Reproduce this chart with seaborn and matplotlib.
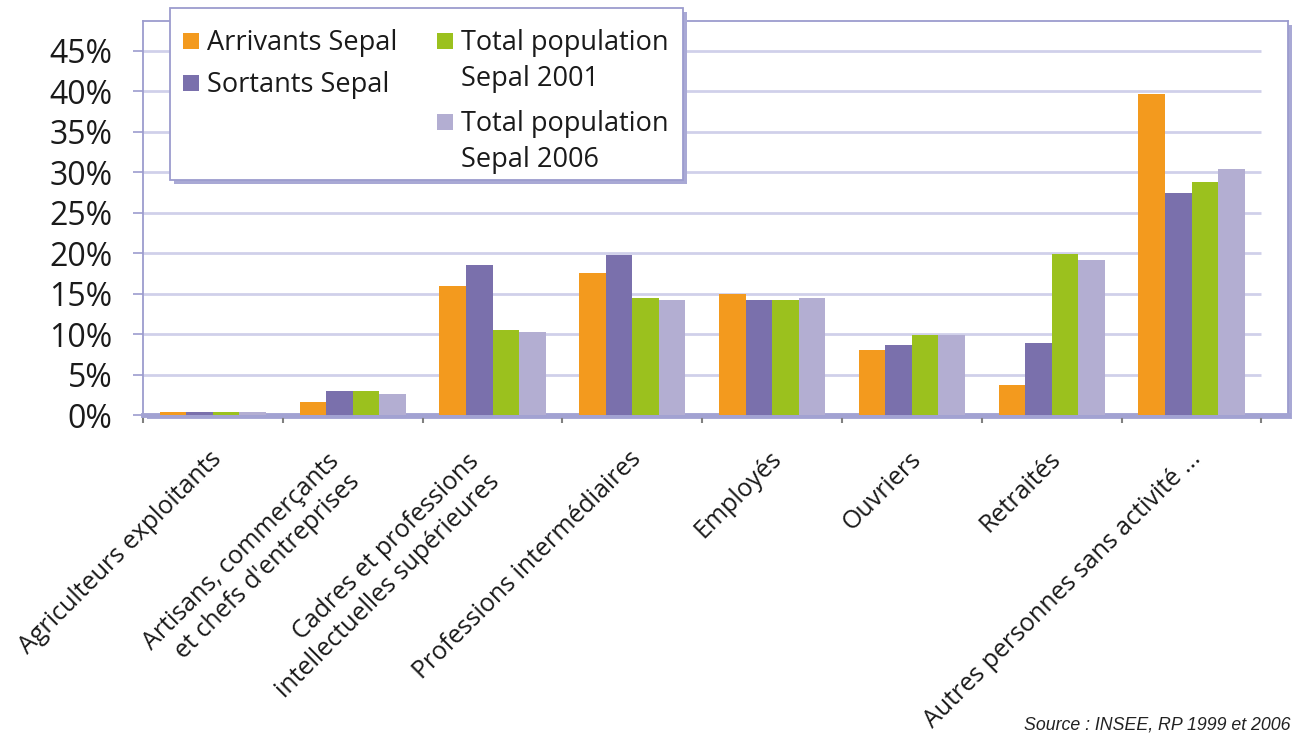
import matplotlib
matplotlib.use("Agg")
import matplotlib.pyplot as plt
from matplotlib.patches import Rectangle
from matplotlib.transforms import ScaledTranslation
import numpy as np
import pandas as pd
import seaborn as sns

# Socio-professional categories (x axis)
categories = [
    "Agriculteurs exploitants",
    "Artisans, commerçants\net chefs d'entreprises",
    "Cadres et professions\nintellectuelles supérieures",
    "Professions intermédiaires",
    "Employés",
    "Ouvriers",
    "Retraités",
    "Autres personnes sans activité ...",
]

# Series names
series = [
    "Arrivants Sepal",
    "Sortants Sepal",
    "Total population\nSepal 2001",
    "Total population\nSepal 2006",
]

# Shares in percent
arrivants = [0.4, 1.6, 15.9, 17.6, 14.9, 8.0, 3.7, 39.7]
sortants = [0.4, 3.0, 18.5, 19.8, 14.2, 8.6, 8.9, 27.4]
pop_2001 = [0.4, 3.0, 10.5, 14.5, 14.2, 9.9, 19.9, 28.8]
pop_2006 = [0.4, 2.6, 10.2, 14.2, 14.5, 9.9, 19.2, 30.4]

y_ticks = [0, 5, 10, 15, 20, 25, 30, 35, 40, 45]
y_labels = [f"{t}%" for t in y_ticks]

source_note = "Source : INSEE, RP 1999 et 2006"

colors = ["#F39A1E", "#7A70AC", "#9BC11E", "#B3AED2"]
frame_color = "#9C9CCE"
grid_color = "#D0D0EA"
shadow_color = "#A9A9D5"
text_color = "#1a1a1a"

df = pd.DataFrame({
    "category": np.repeat(categories, len(series)),
    "series": series * len(categories),
    "value": np.column_stack([arrivants, sortants, pop_2001, pop_2006]).ravel(),
})

sns.set_theme(style="white")
plt.rcParams["font.family"] = ["Open Sans", "DejaVu Sans"]

W, H = 1294, 737
fig = plt.figure(figsize=(W / 100, H / 100), dpi=100)
fig.patch.set_facecolor("white")


def px_box(x0, y0, x1, y1):
    """Figure-fraction rectangle from pixel corners (origin top-left)."""
    return (x0 / W, 1 - y1 / H), (x1 - x0) / W, (y1 - y0) / H


left, right, top, bottom = 143, 1288, 21, 415
(ax_x, ax_y), ax_w, ax_h = px_box(left, top, right, bottom)
ax = fig.add_axes([ax_x, ax_y, ax_w, ax_h])

# drop shadow of the plot frame
xy, w, h = px_box(left + 4, top + 4, right + 4, bottom + 4)
fig.patches.append(Rectangle(xy, w, h, transform=fig.transFigure,
                             facecolor=shadow_color, edgecolor="none", zorder=-1))

sns.barplot(data=df, x="category", y="value", hue="series", hue_order=series,
            order=categories, palette=colors, width=0.76, saturation=1,
            linewidth=0, ax=ax, legend=False, zorder=3)

ax.set_xlim(-0.5, 7.69)
ax.set_ylim(0, 48.7)
ax.hlines(y_ticks[1:], -0.5, 7.5, color=grid_color, lw=2, zorder=1)

ax.set_xlabel("")
ax.set_ylabel("")
ax.set_yticks(y_ticks)
ax.set_yticklabels(y_labels, fontsize=23, color=text_color)
ax.tick_params(axis="y", left=True, length=7, width=1.2, color=frame_color, pad=15)

ax.set_xticks(range(len(categories)))
ax.set_xticklabels(categories, rotation=45, ha="right", rotation_mode="anchor",
                   va="center", multialignment="right", fontsize=18, color=text_color)
ax.tick_params(axis="x", which="major", length=0, pad=30)
ax.set_xticks(np.arange(-0.5, 8.0, 1.0), minor=True)
ax.tick_params(axis="x", which="minor", bottom=True, length=6, width=1.5, color="#808080")

# nudge the rotated category labels (two-line labels sit a bit lower)
for lab in ax.get_xticklabels():
    if "\n" in lab.get_text():
        off = ScaledTranslation(-5 / 72, -8 / 72, fig.dpi_scale_trans)
    else:
        off = ScaledTranslation(4 / 72, 1 / 72, fig.dpi_scale_trans)
    lab.set_transform(lab.get_transform() + off)

for side in ("left", "top", "right"):
    ax.spines[side].set_color(frame_color)
    ax.spines[side].set_linewidth(1.3)
ax.spines["bottom"].set_color("#A2A2D2")
ax.spines["bottom"].set_linewidth(3.5)

# legend box with shadow
lx0, ly0, lx1, ly1 = 170, 8, 683, 180
xy, w, h = px_box(lx0 + 4, ly0 + 4, lx1 + 4, ly1 + 4)
fig.patches.append(Rectangle(xy, w, h, transform=fig.transFigure,
                             facecolor=shadow_color, edgecolor="none", zorder=8))
xy, w, h = px_box(lx0, ly0, lx1, ly1)
fig.patches.append(Rectangle(xy, w, h, transform=fig.transFigure,
                             facecolor="white", edgecolor=frame_color, lw=1.3, zorder=9))

# legend entries: (swatch left, first-line centre) in pixels
entry_pos = [(183, 41), (183, 83), (437, 41), (437, 122)]
sw = 16
for (sx, cy), color, label in zip(entry_pos, colors, series):
    xy, w, h = px_box(sx, cy - sw / 2, sx + sw, cy + sw / 2)
    fig.patches.append(Rectangle(xy, w, h, transform=fig.transFigure,
                                 facecolor=color, edgecolor="none", zorder=10))
    fig.text((sx + sw + 8) / W, 1 - (cy - 12) / H, label, fontsize=19.5,
             color=text_color, ha="left", va="top", linespacing=1.36, zorder=11)

fig.text(1291 / W, 4 / H, source_note, fontsize=12.8,
         style="italic", family="Liberation Sans", color="#222222",
         ha="right", va="bottom")

fig.savefig("out.png", dpi=100)
